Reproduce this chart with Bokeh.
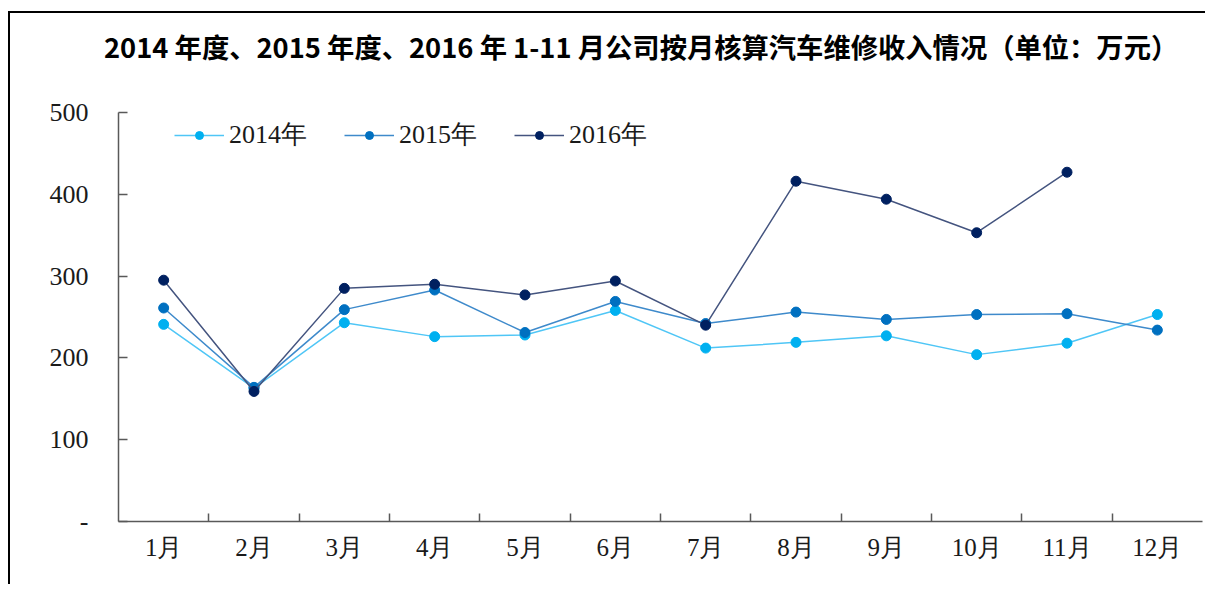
from bokeh.plotting import figure
from bokeh.layouts import column, row
from bokeh.models import Range1d, FixedTicker, Legend, LegendItem, Div
from bokeh.embed import file_html
from bokeh.resources import INLINE

months = ["1月", "2月", "3月", "4月", "5月", "6月", "7月", "8月", "9月", "10月", "11月", "12月"]
y2014 = [241, 163, 243, 226, 228, 258, 212, 219, 227, 204, 218, 253]
y2015 = [261, 164, 259, 283, 231, 269, 242, 256, 247, 253, 254, 234]
y2016 = [295, 159, 285, 290, 277, 294, 240, 416, 394, 353, 427]
series_names = ["2014年", "2015年", "2016年"]
y_ticks = [0, 100, 200, 300, 400, 500]
y_tick_labels = ["-", "100", "200", "300", "400", "500"]
title_text = "2014 年度、2015 年度、2016 年 1-11 月公司按月核算汽车维修收入情况（单位：万元）"

marker_colors = ["#00B0F0", "#0070C0", "#002060"]
line_colors = ["#4FC6F6", "#3E8ACB", "#44547F"]

title_div = Div(
    text=('<div style="font-family: \'Noto Sans CJK SC\', sans-serif; font-weight: bold; '
          'font-size: 27.3px; color: black; line-height: 66px; height: 66px; '
          'padding-left: 94px; white-space: nowrap; margin: 0;">' + title_text + '</div>'),
    width=1195, height=66, margin=0)

p = figure(width=1195, height=507, output_backend="svg", toolbar_location=None,
           x_range=Range1d(0, len(months)), y_range=Range1d(0, 500),
           min_border_left=108, min_border_right=3, min_border_top=33, min_border_bottom=65,
           margin=0)

p.xgrid.visible = False
p.ygrid.visible = False
p.outline_line_color = None

xs_center = [i + 0.5 for i in range(len(months))]
xs_bound = [i for i in range(1, len(months))]

xa = p.xaxis[0]
xa.ticker = FixedTicker(ticks=xs_center, minor_ticks=xs_bound)
xa.major_label_overrides = {x: m for x, m in zip(xs_center, months)}
xa.major_tick_in = 0
xa.major_tick_out = 0
xa.minor_tick_in = 8
xa.minor_tick_out = 0
xa.minor_tick_line_color = "#595959"
xa.minor_tick_line_width = 1.5
xa.axis_line_color = "#595959"
xa.axis_line_width = 1.5
xa.major_label_text_font = "Liberation Serif"
xa.major_label_text_font_size = "25px"
xa.major_label_text_color = "#1a1a1a"
xa.major_label_standoff = 12

ya = p.yaxis[0]
ya.ticker = FixedTicker(ticks=y_ticks)
ya.major_label_overrides = {t: l for t, l in zip(y_ticks, y_tick_labels)}
ya.major_tick_in = 9
ya.major_tick_out = 0
ya.minor_tick_in = 0
ya.minor_tick_out = 0
ya.major_tick_line_color = "#595959"
ya.major_tick_line_width = 1.5
ya.axis_line_color = "#595959"
ya.axis_line_width = 1.5
ya.major_label_text_font = "Liberation Serif"
ya.major_label_text_font_size = "26px"
ya.major_label_text_color = "#1a1a1a"
ya.major_label_standoff = 30

items = []
for name, ys, lc, mc in zip(series_names, [y2014, y2015, y2016], line_colors, marker_colors):
    xs = xs_center[:len(ys)]
    l = p.line(xs, ys, line_color=lc, line_width=1.5)
    s = p.scatter(xs, ys, size=10, fill_color=mc, line_color=mc)
    items.append(LegendItem(label=name, renderers=[l, s]))

legend = Legend(items=items, orientation="horizontal", location=(56, 369),
                label_text_font="Liberation Serif", label_text_font_size="26px",
                label_text_color="#1a1a1a", glyph_width=50, glyph_height=20,
                label_standoff=5, spacing=37, padding=5, margin=0,
                border_line_color=None, background_fill_alpha=0)
p.add_layout(legend)

top_space = Div(text="", width=1205, height=11, margin=0)
left_space = Div(text="", width=8, height=573, margin=0)
left_bar = Div(text="", width=2, height=573, margin=0, styles={"background-color": "black"})
top_bar = Div(text="", width=1195, height=2, margin=0, styles={"background-color": "black"})

content = column(top_bar, title_div, p, spacing=0)
page = column(top_space, row(left_space, left_bar, content, spacing=0), spacing=0)

template = """{% extends base %}
{% block preamble %}<style>html, body { overflow: hidden; }</style>{% endblock %}
"""
try:
    html = file_html(page, INLINE, template=template)
except Exception:
    html = file_html(page, INLINE)

open("out.html", "w").write(html)
